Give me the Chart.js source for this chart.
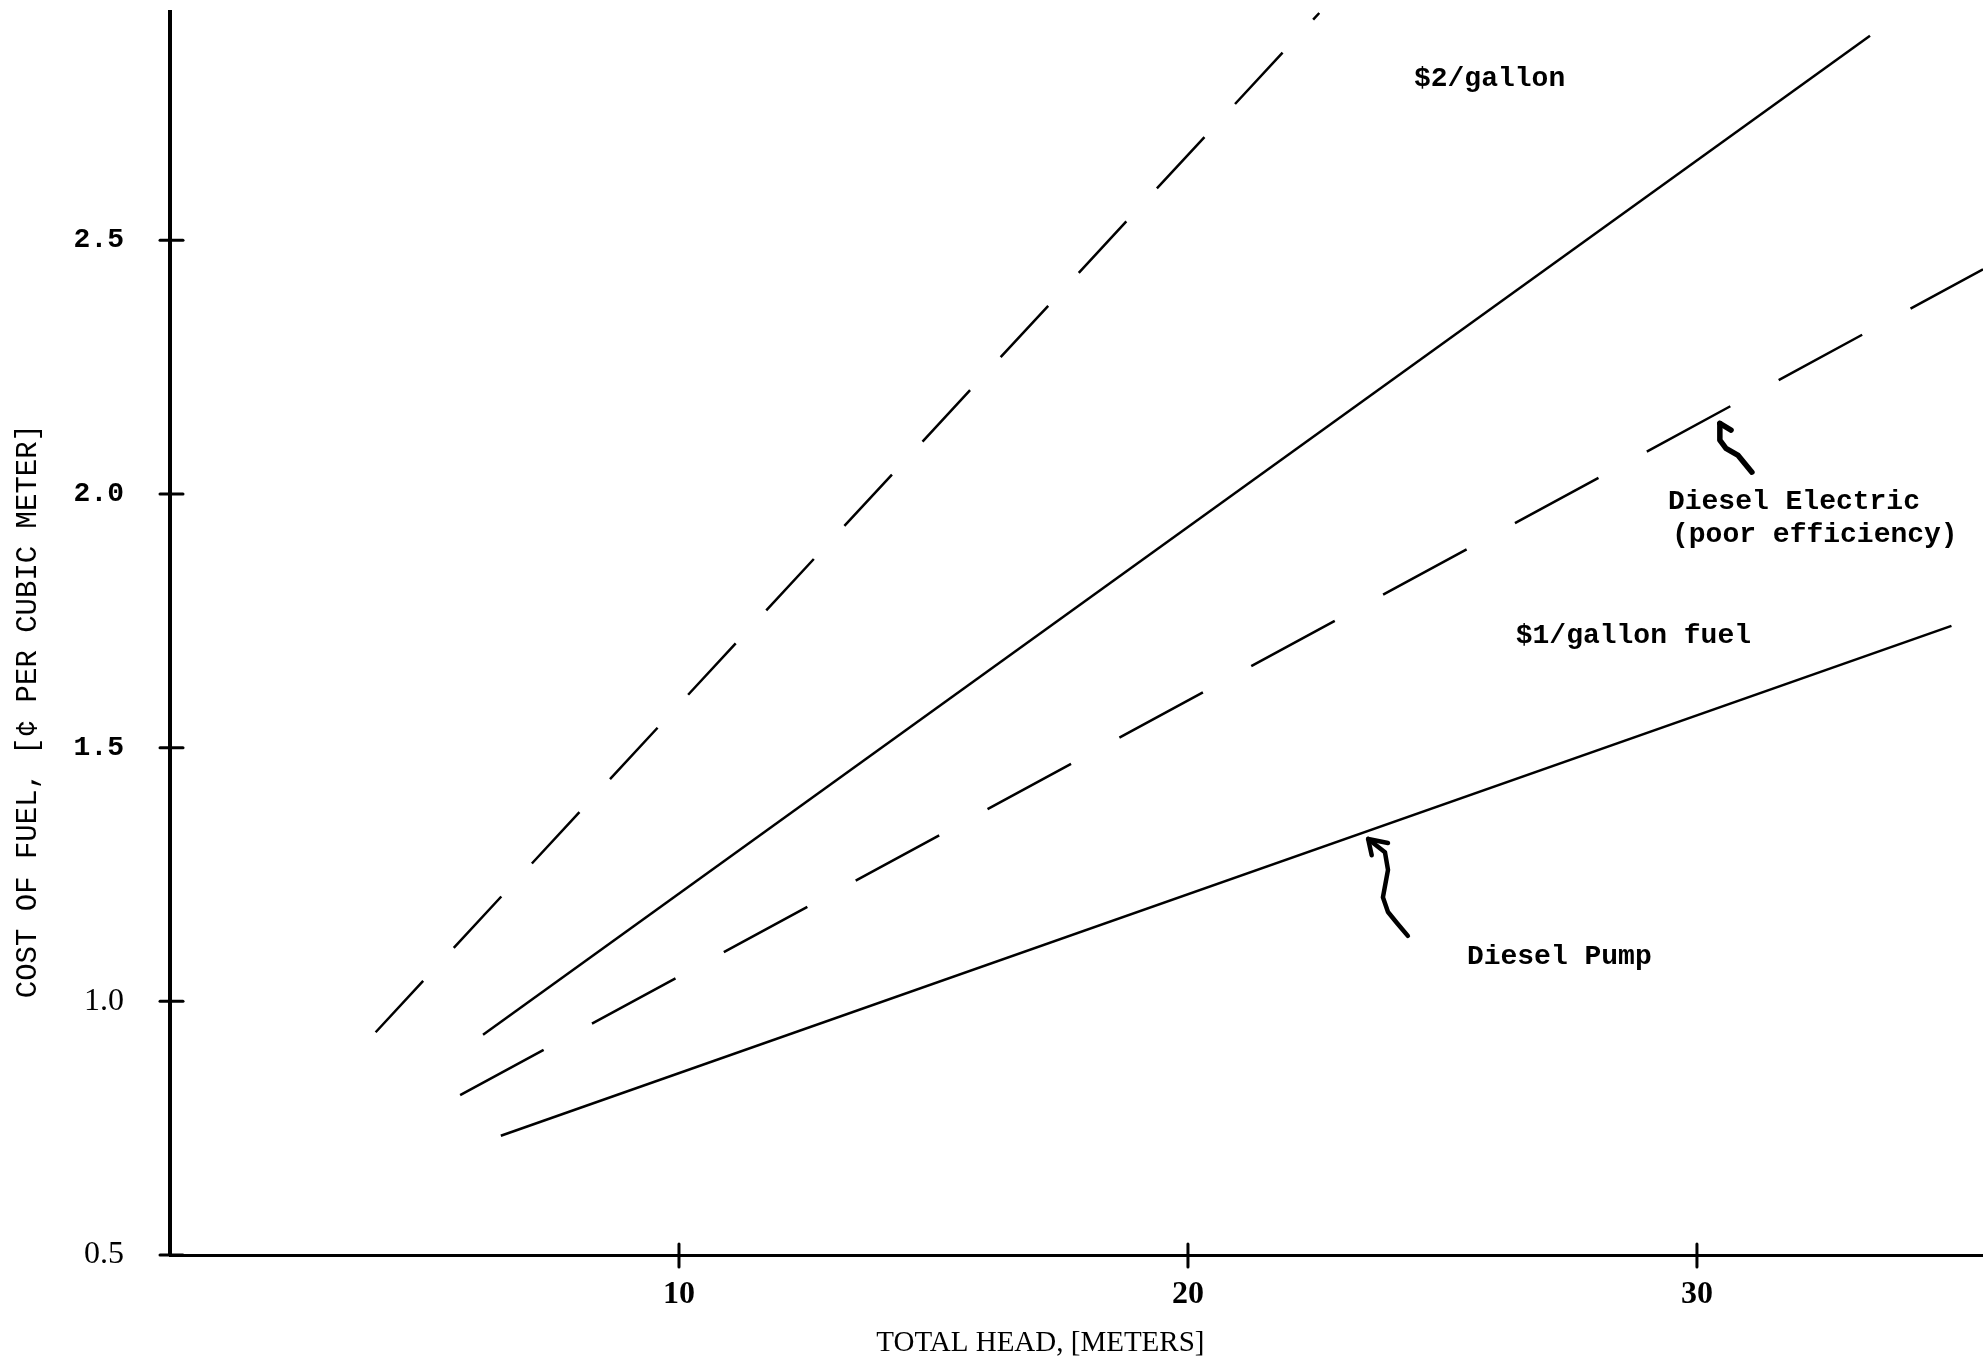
<!DOCTYPE html>
<html>
<head>
<meta charset="utf-8">
<script src="https://cdn.jsdelivr.net/npm/chart.js@4/dist/chart.umd.min.js"></script>
<style>
    html, body { margin: 0; padding: 0; background: #fff; }
    canvas { display: block; }
</style>
</head>
<body>
<canvas id="myChart" width="1983" height="1361"></canvas>
<script>
// axis ticks
const xTicks = [10, 20, 30];
const yTicks = [0.5, 1.0, 1.5, 2.0, 2.5];

// lines (total head in m, cost in cents per m3)
const pump1X = [6.5, 35.0];
const pump1Y = [0.735, 1.74];
const elec1X = [5.7, 35.62];
const elec1Y = [0.815, 2.443];
const pump2X = [6.15, 33.4];
const pump2Y = [0.934, 2.903];
const elec2X = [4.04, 22.58];
const elec2Y = [0.939, 2.948];

// notes on the plot, placed in data units (left edge, middle)
const noteText = ["$2/gallon", "Diesel Electric", "(poor efficiency)", "$1/gallon fuel", "Diesel Pump"];
const noteX = [24.44, 29.43, 29.51, 26.44, 25.48];
const noteY = [2.819, 1.984, 1.919, 1.720, 1.087];

// hand drawn arrows, tail first, tip last
const pumpArrowX = [24.32, 24.11, 23.93, 23.83, 23.93, 23.87, 23.54];
const pumpArrowY = [1.129, 1.154, 1.176, 1.205, 1.259, 1.294, 1.320];
const pumpBarbX = [23.93, 23.54, 23.61];
const pumpBarbY = [1.312, 1.320, 1.288];
const elecArrowX = [31.08, 30.81, 30.57, 30.45, 30.45];
const elecArrowY = [2.043, 2.076, 2.090, 2.106, 2.139];
const elecBarbX = [30.45, 30.67];
const elecBarbY = [2.139, 2.126];

const xTitle = "TOTAL HEAD, [METERS]";
const yTitle = "COST OF FUEL, [\u00a2 PER CUBIC METER]";
const xTitleAt = 17.1;
const yTitleAt = 1.572;

const toPoints = (xs, ys) => xs.map((x, i) => ({ x: x, y: ys[i] }));

const lineSet = (xs, ys, dash) => ({
    data: toPoints(xs, ys),
    showLine: true,
    borderColor: "#000",
    borderWidth: 2.5,
    borderDash: dash,
    pointRadius: 0,
    tension: 0,
});

const monoBold = (size) => ({ family: "'Liberation Mono', 'DejaVu Sans Mono', monospace", size: size, weight: "bold" });

const drawPath = (ctx, xScale, yScale, xs, ys, width) => {
    ctx.beginPath();
    xs.forEach((x, i) => {
        const px = xScale.getPixelForValue(x);
        const py = yScale.getPixelForValue(ys[i]);
        if (i === 0) ctx.moveTo(px, py);
        else ctx.lineTo(px, py);
    });
    ctx.lineWidth = width;
    ctx.stroke();
};

const extrasPlugin = {
    id: "extras",
    afterDraw: (chart) => {
        const ctx = chart.ctx;
        const xScale = chart.scales.x;
        const yScale = chart.scales.y;
        const area = chart.chartArea;
        ctx.save();
        ctx.strokeStyle = "#000";
        ctx.fillStyle = "#000";
        ctx.lineCap = "round";
        ctx.lineJoin = "round";

        // ticks crossing the axes
        ctx.lineWidth = 3;
        yScale.ticks.forEach((t) => {
            const py = yScale.getPixelForValue(t.value);
            ctx.beginPath();
            ctx.moveTo(area.left - 10, py);
            ctx.lineTo(area.left + 13, py);
            ctx.stroke();
        });
        xScale.ticks.forEach((t) => {
            const px = xScale.getPixelForValue(t.value);
            ctx.beginPath();
            ctx.moveTo(px, area.bottom - 11);
            ctx.lineTo(px, area.bottom + 12);
            ctx.stroke();
        });

        // axis titles
        ctx.textAlign = "center";
        ctx.textBaseline = "middle";
        ctx.font = "29px 'Liberation Serif', serif";
        ctx.fillText(xTitle, xScale.getPixelForValue(xTitleAt), xScale.bottom - 18);
        ctx.save();
        ctx.translate(yScale.left + 28, yScale.getPixelForValue(yTitleAt));
        ctx.rotate(-Math.PI / 2);
        ctx.font = "29px 'Liberation Mono', monospace";
        ctx.fillText(yTitle, 0, 0);
        ctx.restore();

        // notes
        ctx.textAlign = "left";
        ctx.font = "bold 28px 'Liberation Mono', monospace";
        noteText.forEach((s, i) => {
            ctx.fillText(s, xScale.getPixelForValue(noteX[i]), yScale.getPixelForValue(noteY[i]));
        });

        // arrows
        drawPath(ctx, xScale, yScale, pumpArrowX, pumpArrowY, 4.5);
        drawPath(ctx, xScale, yScale, pumpBarbX, pumpBarbY, 4.5);
        drawPath(ctx, xScale, yScale, elecArrowX, elecArrowY, 5.5);
        drawPath(ctx, xScale, yScale, elecBarbX, elecBarbY, 5.5);

        ctx.restore();
    },
};

const ctx = document.getElementById("myChart").getContext("2d");
const myChart = new Chart(ctx, {
    type: "scatter",
    data: {
        datasets: [
            lineSet(elec2X, elec2Y, [70, 45]),
            lineSet(pump2X, pump2Y, []),
            lineSet(elec1X, elec1Y, [95, 55]),
            lineSet(pump1X, pump1Y, []),
        ],
    },
    options: {
        responsive: false,
        animation: false,
        layout: { padding: { top: 12, right: 0, bottom: 0, left: 0 } },
        plugins: {
            legend: { display: false },
            tooltip: { enabled: false },
        },
        scales: {
            x: {
                type: "linear",
                min: 0,
                max: 35.62,
                afterBuildTicks: (scale) => { scale.ticks = xTicks.map((v) => ({ value: v })); },
                afterFit: (scale) => {
                    scale.height = 106;
                    scale.paddingLeft = 0;
                    scale.paddingRight = 0;
                },
                grid: { display: false, drawTicks: false },
                border: { display: true, color: "#000", width: 3 },
                ticks: {
                    padding: 21,
                    color: "#000",
                    maxRotation: 0,
                    font: { family: "'Liberation Serif', serif", size: 32, weight: "bold" },
                    callback: (v) => String(v),
                },
            },
            y: {
                type: "linear",
                min: 0.5,
                max: 2.95,
                afterBuildTicks: (scale) => { scale.ticks = yTicks.map((v) => ({ value: v })); },
                afterFit: (scale) => {
                    scale.width = 170;
                    scale.paddingTop = 0;
                    scale.paddingBottom = 0;
                },
                grid: { display: false, drawTicks: false },
                border: { display: true, color: "#000", width: 4 },
                ticks: {
                    padding: 46,
                    color: "#000",
                    font: (c) => (c.tick && c.tick.value >= 1.5 ? monoBold(28) : { family: "'Liberation Serif', serif", size: 32 }),
                    callback: (v) => v.toFixed(1),
                },
            },
        },
    },
    plugins: [extrasPlugin],
});
</script>
</body>
</html>
